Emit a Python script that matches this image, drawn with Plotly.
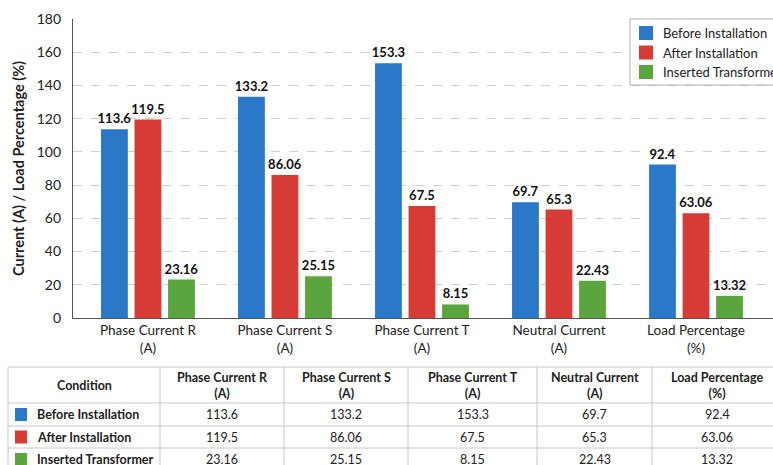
import plotly.graph_objects as go

# Measurements per quantity
categories = ["Phase Current R<br>(A)", "Phase Current S<br>(A)", "Phase Current T<br>(A)",
              "Neutral Current<br>(A)", "Load Percentage<br>(%)"]
conditions = ["Before Installation", "After Installation", "Inserted Transformer"]
before_installation = [113.6, 133.2, 153.3, 69.7, 92.4]
after_installation = [119.5, 86.06, 67.5, 65.3, 63.06]
inserted_transformer = [23.16, 25.15, 8.15, 22.43, 13.32]
y_ticks = [0, 20, 40, 60, 80, 100, 120, 140, 160, 180]

series = [before_installation, after_installation, inserted_transformer]
colors = ["#2b78c8", "#d63b35", "#5ba53f"]

W, H = 773, 465
FONT = "Lato"
INK = "#222222"
GRID_LINE = "#c8c8c8"


def px(x):
    return x / W


def py(y):
    return 1 - y / H


fig = go.Figure()
for name, vals, col in zip(conditions, series, colors):
    fig.add_trace(go.Bar(
        x=list(range(len(categories))), y=vals, name=name,
        marker=dict(color=col, line=dict(width=0)),
        text=[str(v) for v in vals], textposition="outside",
        constraintext="none",
        textfont=dict(family=FONT, size=13, color="#111111", weight="bold"),
        cliponaxis=False, showlegend=False,
    ))

shapes = []
annotations = []

# Legend box (runs off the right edge of the page)
shapes.append(dict(type="rect", xref="paper", yref="paper",
                   x0=px(630), x1=px(810), y0=py(85), y1=py(19),
                   line=dict(color="#b0b0b0", width=1), fillcolor="white", layer="above"))
for i, (name, col) in enumerate(zip(conditions, colors)):
    cy = 33 + i * 19.5
    shapes.append(dict(type="rect", xref="paper", yref="paper",
                       x0=px(639), x1=px(653), y0=py(cy + 7), y1=py(cy - 7),
                       line=dict(width=0), fillcolor=col, layer="above"))
    annotations.append(dict(xref="paper", yref="paper", x=px(661), y=py(cy),
                            xanchor="left", yanchor="middle", showarrow=False,
                            text=name, font=dict(family=FONT, size=13, color=INK)))

# Summary table below the chart
col_edges = [8, 160, 284, 408, 537, 652, 782]
row_edges = [367, 403, 426, 448, 471]
for x in col_edges:
    shapes.append(dict(type="line", xref="paper", yref="paper",
                       x0=px(x), x1=px(x), y0=py(row_edges[0]), y1=py(row_edges[-1]),
                       line=dict(color=GRID_LINE, width=1)))
for y in row_edges:
    shapes.append(dict(type="line", xref="paper", yref="paper",
                       x0=px(col_edges[0]), x1=px(col_edges[-1]), y0=py(y), y1=py(y),
                       line=dict(color=GRID_LINE, width=1)))

header = ["Condition"] + categories
for j, h in enumerate(header):
    cx = (col_edges[j] + col_edges[j + 1]) / 2
    cy = (row_edges[0] + row_edges[1]) / 2
    annotations.append(dict(xref="paper", yref="paper", x=px(cx), y=py(cy),
                            xanchor="center", yanchor="middle", align="center",
                            showarrow=False, text=h,
                            font=dict(family=FONT, size=12.5, color=INK, weight="bold")))

for i, (name, col, vals) in enumerate(zip(conditions, colors, series)):
    cy = (row_edges[i + 1] + row_edges[i + 2]) / 2
    shapes.append(dict(type="rect", xref="paper", yref="paper",
                       x0=px(15), x1=px(27), y0=py(cy + 6.5), y1=py(cy - 6.5),
                       line=dict(width=0), fillcolor=col))
    annotations.append(dict(xref="paper", yref="paper", x=px(35), y=py(cy),
                            xanchor="left", yanchor="middle", showarrow=False,
                            text=name,
                            font=dict(family=FONT, size=12.5, color=INK, weight="bold")))
    for j, v in enumerate(vals):
        cx = (col_edges[j + 1] + col_edges[j + 2]) / 2
        annotations.append(dict(xref="paper", yref="paper", x=px(cx), y=py(cy),
                                xanchor="center", yanchor="middle", showarrow=False,
                                text=str(v),
                                font=dict(family=FONT, size=12.5, color=INK)))

fig.update_layout(
    width=W, height=H,
    margin=dict(l=0, r=0, t=0, b=0, autoexpand=False),
    paper_bgcolor="white", plot_bgcolor="white",
    barmode="group", bargap=0.266, bargroupgap=0.2,
    font=dict(family=FONT, size=13, color=INK),
    showlegend=False,
    shapes=shapes, annotations=annotations,
    xaxis=dict(
        domain=[73 / W, 1],
        tickmode="array", tickvals=list(range(len(categories))), ticktext=categories,
        range=[-0.547, 4.562],
        showgrid=False, zeroline=False,
        showline=True, linecolor="#555555", linewidth=1.2,
        ticks="", tickfont=dict(family=FONT, size=13.5, color=INK),
        anchor="y",
    ),
    yaxis=dict(
        domain=[(H - 318) / H, (H - 19) / H],
        range=[0, 180], tickmode="array", tickvals=y_ticks,
        showgrid=True, gridcolor="#d0d0d0", griddash="dash", gridwidth=1,
        zeroline=False,
        showline=True, linecolor="#555555", linewidth=1.2,
        ticks="", ticklabelstandoff=8,
        tickfont=dict(family=FONT, size=14, color=INK),
        title=dict(text="Current (A) / Load Percentage (%)",
                   font=dict(family=FONT, size=14.5, color=INK, weight="bold"),
                   standoff=8),
        anchor="x",
    ),
)

fig.write_html("out.html")
